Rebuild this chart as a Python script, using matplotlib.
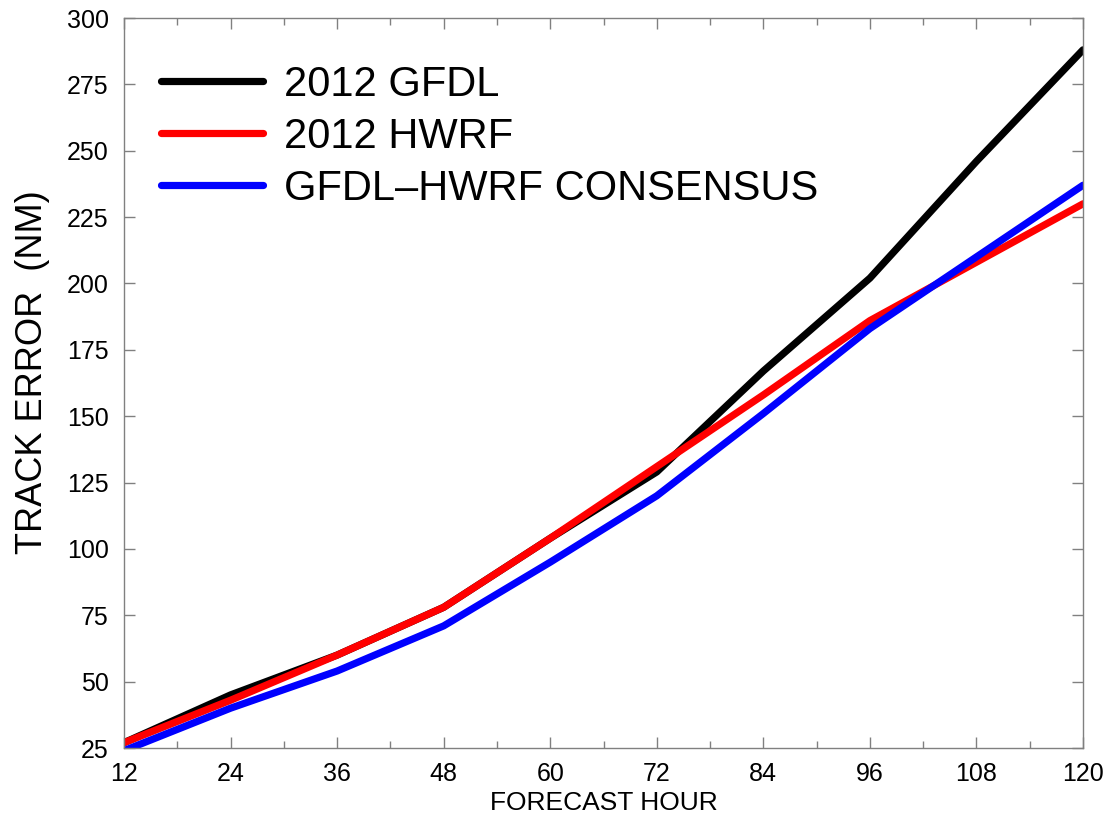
import matplotlib
matplotlib.use("Agg")
import matplotlib.pyplot as plt
from matplotlib.ticker import MultipleLocator

plt.rcParams['font.family'] = ['Liberation Sans', 'DejaVu Sans']

hours = [12, 24, 36, 48, 60, 72, 84, 96, 108, 120]
gfdl = [27, 45, 60, 78, 104, 129, 167, 202, 246, 288]
hwrf = [27, 43, 60, 78, 104, 131, 158, 186, 208, 230]
consensus = [24, 40, 54, 71, 95, 120, 151, 183, 210, 237]
labels = ["2012 GFDL", "2012 HWRF", "GFDL\u2013HWRF CONSENSUS"]
colors = ["black", "#ff0000", "#0000ff"]

fig = plt.figure(figsize=(11.06, 8.17), dpi=100)
ax = fig.add_axes([124/1106, 69/817, (1083-124)/1106, (748-18)/817])

for ys, lab, c in zip([gfdl, hwrf, consensus], labels, colors):
    ax.plot(hours, ys, color=c, lw=5.2, label=lab, solid_capstyle='round',
            solid_joinstyle='round')

ax.set_xlim(12, 120)
ax.set_ylim(25, 300)
ax.set_xticks(hours)
ax.xaxis.set_minor_locator(MultipleLocator(6))
ax.yaxis.set_major_locator(MultipleLocator(25))
ax.tick_params(which='both', direction='in', top=True, right=True,
               color='#808080', width=1)
ax.tick_params(which='major', length=8, labelsize=18)
ax.tick_params(axis='y', which='major', pad=11)
ax.tick_params(axis='x', which='major', pad=10)
ax.tick_params(which='minor', length=5)
for s in ax.spines.values():
    s.set_color('#808080')
    s.set_linewidth(1)

ax.set_xlabel("FORECAST HOUR", fontsize=19, labelpad=4)
ax.set_ylabel("TRACK ERROR  (NM)", fontsize=26)
ax.yaxis.set_label_coords(-0.077, 0.515)

leg = ax.legend(loc='upper left', bbox_to_anchor=(0.021, 0.959), frameon=False,
                fontsize=30, handlelength=2.45, handletextpad=0.5,
                labelspacing=0.29, borderaxespad=0)

fig.savefig("out.png", dpi=100)
